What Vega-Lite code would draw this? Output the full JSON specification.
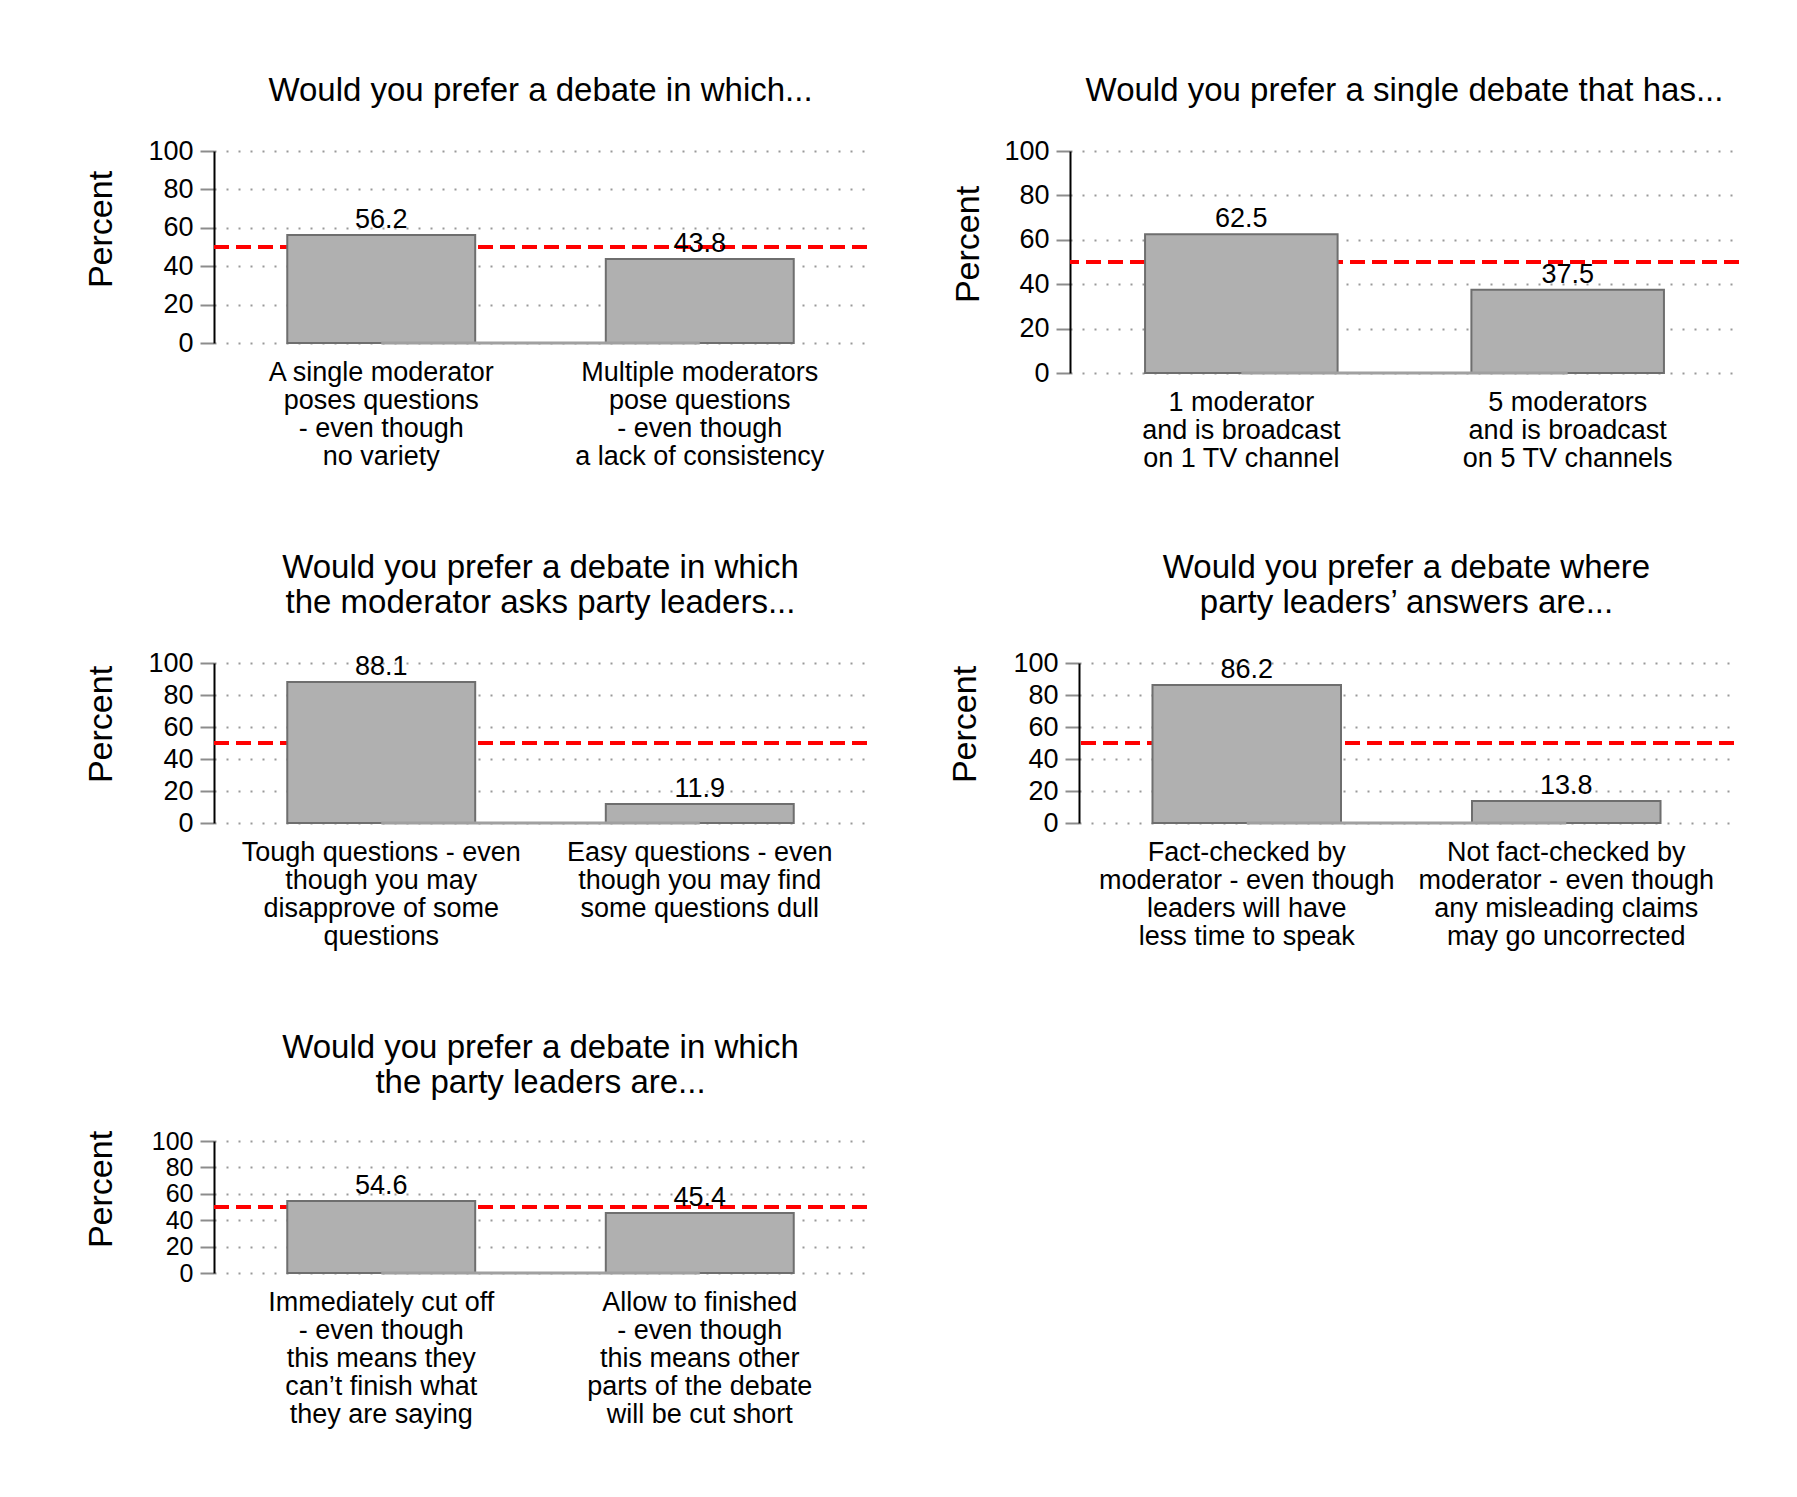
{
  "$schema": "https://vega.github.io/schema/vega-lite/v6.json",
  "padding": {"left": 84, "top": 75, "right": 5, "bottom": 5},
  "datasets": {
    "p1": [
      {"label": "A single moderator|poses questions|- even though|no variety", "pct": 56.2},
      {"label": "Multiple moderators|pose questions|- even though|a lack of consistency", "pct": 43.8}
    ],
    "p2": [
      {"label": "1 moderator|and is broadcast|on 1 TV channel", "pct": 62.5},
      {"label": "5 moderators|and is broadcast|on 5 TV channels", "pct": 37.5}
    ],
    "p3": [
      {"label": "Tough questions - even|though you may|disapprove of some|questions", "pct": 88.1},
      {"label": "Easy questions - even|though you may find|some questions dull", "pct": 11.9}
    ],
    "p4": [
      {"label": "Fact-checked by|moderator - even though|leaders will have|less time to speak", "pct": 86.2},
      {"label": "Not fact-checked by|moderator - even though|any misleading claims|may go uncorrected", "pct": 13.8}
    ],
    "p5": [
      {"label": "Immediately cut off|- even though|this means they|can’t finish what|they are saying", "pct": 54.6},
      {"label": "Allow to finished|- even though|this means other|parts of the debate|will be cut short", "pct": 45.4}
    ]
  },
  "bounds": "flush",
  "spacing": 512,
  "vconcat": [
    {
      "hconcat": [
        {
          "data": {"name": "p1"},
          "width": 653, "height": 192,
          "title": {"text": "Would you prefer a debate in which..."},
          "encoding": {"y": {"field": "pct", "type": "quantitative", "title": "Percent", "scale": {"domain": [0, 100], "nice": false}, "axis": {"values": [0, 20, 40, 60, 80, 100], "titleX": -113, "titleY": 78}}},
          "layer": [
            {"mark": {"type": "rule", "color": "#ff0000", "strokeWidth": 4, "strokeDash": [15, 7]}, "encoding": {"y": {"datum": 50, "type": "quantitative", "title": "Percent"}}},
            {"mark": {"type": "bar", "fill": "#b0b0b0", "stroke": "#6e6e6e", "strokeWidth": 2}, "encoding": {"x": {"field": "label", "type": "nominal", "sort": null, "title": null, "scale": {"paddingInner": 0.41, "paddingOuter": 0.23}, "axis": {"labelExpr": "split(datum.value, '|')"}}}},
            {"mark": {"type": "line", "color": "#a0a0a0", "strokeWidth": 3}, "encoding": {"x": {"field": "label", "type": "nominal", "sort": null, "title": null}, "y": {"datum": 0, "type": "quantitative", "title": "Percent"}}},
            {"mark": {"type": "text", "baseline": "alphabetic", "dy": -7, "fontSize": 27, "color": "black"}, "encoding": {"x": {"field": "label", "type": "nominal", "sort": null, "title": null}, "text": {"field": "pct", "type": "quantitative", "format": ".1f"}}}
          ]
        },
        {
          "data": {"name": "p2"},
          "width": 669, "height": 222,
          "title": {"text": "Would you prefer a single debate that has..."},
          "encoding": {"y": {"field": "pct", "type": "quantitative", "title": "Percent", "scale": {"domain": [0, 100], "nice": false}, "axis": {"values": [0, 20, 40, 60, 80, 100], "titleX": -102, "titleY": 93}}},
          "layer": [
            {"mark": {"type": "rule", "color": "#ff0000", "strokeWidth": 4, "strokeDash": [15, 7]}, "encoding": {"y": {"datum": 50, "type": "quantitative", "title": "Percent"}}},
            {"mark": {"type": "bar", "fill": "#b0b0b0", "stroke": "#6e6e6e", "strokeWidth": 2}, "encoding": {"x": {"field": "label", "type": "nominal", "sort": null, "title": null, "scale": {"paddingInner": 0.41, "paddingOuter": 0.23}, "axis": {"labelExpr": "split(datum.value, '|')"}}}},
            {"mark": {"type": "line", "color": "#a0a0a0", "strokeWidth": 3}, "encoding": {"x": {"field": "label", "type": "nominal", "sort": null, "title": null}, "y": {"datum": 0, "type": "quantitative", "title": "Percent"}}},
            {"mark": {"type": "text", "baseline": "alphabetic", "dy": -7, "fontSize": 27, "color": "black"}, "encoding": {"x": {"field": "label", "type": "nominal", "sort": null, "title": null}, "text": {"field": "pct", "type": "quantitative", "format": ".1f"}}}
          ]
        }
      ],
      "spacing": 203,
      "bounds": "flush"
    },
    {
      "vconcat": [
        {
          "hconcat": [
            {
              "data": {"name": "p3"},
              "width": 653, "height": 160,
              "title": {"text": ["Would you prefer a debate in which", "the moderator asks party leaders..."]},
              "encoding": {"y": {"field": "pct", "type": "quantitative", "title": "Percent", "scale": {"domain": [0, 100], "nice": false}, "axis": {"values": [0, 20, 40, 60, 80, 100], "titleX": -113, "titleY": 61}}},
              "layer": [
                {"mark": {"type": "rule", "color": "#ff0000", "strokeWidth": 4, "strokeDash": [15, 7]}, "encoding": {"y": {"datum": 50, "type": "quantitative", "title": "Percent"}}},
                {"mark": {"type": "bar", "fill": "#b0b0b0", "stroke": "#6e6e6e", "strokeWidth": 2}, "encoding": {"x": {"field": "label", "type": "nominal", "sort": null, "title": null, "scale": {"paddingInner": 0.41, "paddingOuter": 0.23}, "axis": {"labelExpr": "split(datum.value, '|')"}}}},
                {"mark": {"type": "line", "color": "#a0a0a0", "strokeWidth": 3}, "encoding": {"x": {"field": "label", "type": "nominal", "sort": null, "title": null}, "y": {"datum": 0, "type": "quantitative", "title": "Percent"}}},
                {"mark": {"type": "text", "baseline": "alphabetic", "dy": -7, "fontSize": 27, "color": "black"}, "encoding": {"x": {"field": "label", "type": "nominal", "sort": null, "title": null}, "text": {"field": "pct", "type": "quantitative", "format": ".1f"}}}
              ]
            },
            {
              "data": {"name": "p4"},
              "width": 655, "height": 160,
              "title": {"text": ["Would you prefer a debate where", "party leaders’ answers are..."]},
              "encoding": {"y": {"field": "pct", "type": "quantitative", "title": "Percent", "scale": {"domain": [0, 100], "nice": false}, "axis": {"values": [0, 20, 40, 60, 80, 100], "titleX": -114, "titleY": 61}}},
              "layer": [
                {"mark": {"type": "rule", "color": "#ff0000", "strokeWidth": 4, "strokeDash": [15, 7]}, "encoding": {"y": {"datum": 50, "type": "quantitative", "title": "Percent"}}},
                {"mark": {"type": "bar", "fill": "#b0b0b0", "stroke": "#6e6e6e", "strokeWidth": 2}, "encoding": {"x": {"field": "label", "type": "nominal", "sort": null, "title": null, "scale": {"paddingInner": 0.41, "paddingOuter": 0.23}, "axis": {"labelExpr": "split(datum.value, '|')"}}}},
                {"mark": {"type": "line", "color": "#a0a0a0", "strokeWidth": 3}, "encoding": {"x": {"field": "label", "type": "nominal", "sort": null, "title": null}, "y": {"datum": 0, "type": "quantitative", "title": "Percent"}}},
                {"mark": {"type": "text", "baseline": "alphabetic", "dy": -7, "fontSize": 27, "color": "black"}, "encoding": {"x": {"field": "label", "type": "nominal", "sort": null, "title": null}, "text": {"field": "pct", "type": "quantitative", "format": ".1f"}}}
              ]
            }
          ],
          "spacing": 212,
          "bounds": "flush"
        },
        {
          "data": {"name": "p5"},
          "width": 653, "height": 132,
          "title": {"text": ["Would you prefer a debate in which", "the party leaders are..."]},
          "encoding": {"y": {"field": "pct", "type": "quantitative", "title": "Percent", "scale": {"domain": [0, 100], "nice": false}, "axis": {"values": [0, 20, 40, 60, 80, 100], "titleX": -113, "titleY": 48, "labelFontSize": 25}}},
          "layer": [
            {"mark": {"type": "rule", "color": "#ff0000", "strokeWidth": 4, "strokeDash": [15, 7]}, "encoding": {"y": {"datum": 50, "type": "quantitative", "title": "Percent"}}},
            {"mark": {"type": "bar", "fill": "#b0b0b0", "stroke": "#6e6e6e", "strokeWidth": 2}, "encoding": {"x": {"field": "label", "type": "nominal", "sort": null, "title": null, "scale": {"paddingInner": 0.41, "paddingOuter": 0.23}, "axis": {"labelExpr": "split(datum.value, '|')"}}}},
            {"mark": {"type": "line", "color": "#a0a0a0", "strokeWidth": 3}, "encoding": {"x": {"field": "label", "type": "nominal", "sort": null, "title": null}, "y": {"datum": 0, "type": "quantitative", "title": "Percent"}}},
            {"mark": {"type": "text", "baseline": "alphabetic", "dy": -7, "fontSize": 27, "color": "black"}, "encoding": {"x": {"field": "label", "type": "nominal", "sort": null, "title": null}, "text": {"field": "pct", "type": "quantitative", "format": ".1f"}}}
          ]
        }
      ],
      "spacing": 478,
      "bounds": "flush"
    }
  ],
  "resolve": {"scale": {"x": "independent", "y": "independent"}},
  "config": {
    "font": "Liberation Sans",
    "view": {"stroke": null},
    "title": {"fontSize": 33, "fontWeight": "normal", "color": "black", "anchor": "middle", "frame": "group", "lineHeight": 35, "offset": 29},
    "axis": {"labelColor": "black", "labelFontSize": 27, "titleColor": "black", "titleFontWeight": "normal", "titleFontSize": 34},
    "axisX": {"domain": false, "ticks": false, "grid": false, "labelAngle": 0, "labelPadding": 16, "labelLineHeight": 28, "labelLimit": 500, "labelOverlap": false},
    "axisY": {"grid": true, "gridDash": [2, 10], "gridColor": "#999999", "gridWidth": 2, "domainColor": "black", "domainWidth": 2, "tickColor": "#8c8c8c", "tickSize": 14, "tickWidth": 2, "labelPadding": 7, "labelOverlap": false, "titleBaseline": "middle", "titleAngle": 270}
  }
}
